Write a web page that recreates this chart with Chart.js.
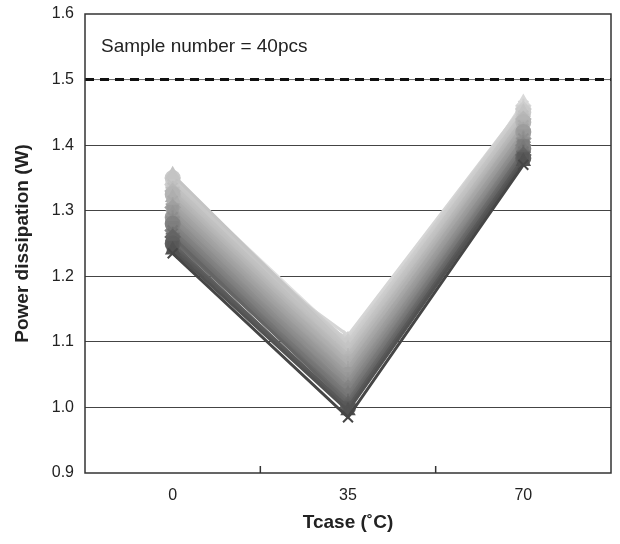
<!DOCTYPE html>
<html>
<head>
<meta charset="utf-8">
<script src="https://cdn.jsdelivr.net/npm/chart.js@4.4.1/dist/chart.umd.min.js"></script>
<style>
  html, body { margin: 0; padding: 0; background: #fff; }
  #wrap { width: 620px; height: 544px; }
</style>
</head>
<body>
<div id="wrap"><canvas id="powerChart" width="620" height="544"></canvas></div>
<script>
// Tcase categories (°C)
var tcase = ['0', '35', '70'];

// power dissipation of each sample, ordered dark -> light shade
var pAt0 = [1.235, 1.24, 1.245, 1.25, 1.26, 1.255, 1.265, 1.27, 1.26, 1.275,
            1.28, 1.27, 1.285, 1.29, 1.28, 1.295, 1.30, 1.29, 1.305, 1.31,
            1.30, 1.315, 1.32, 1.31, 1.325, 1.33, 1.32, 1.335, 1.34, 1.355,
            1.345, 1.35, 1.34, 1.33, 1.255, 1.305, 1.345, 1.32, 1.34, 1.35];
var pAt35 = [0.985, 0.995, 1.0, 1.0, 1.005, 1.01, 1.01, 1.015, 1.02, 1.02,
             1.025, 1.03, 1.03, 1.035, 1.04, 1.04, 1.045, 1.05, 1.05, 1.055,
             1.06, 1.06, 1.065, 1.07, 1.07, 1.075, 1.08, 1.08, 1.085, 1.09,
             1.09, 1.095, 1.10, 1.10, 1.105, 1.11, 1.06, 1.07, 1.09, 1.10];
var pAt70 = [1.37, 1.375, 1.38, 1.38, 1.385, 1.39, 1.385, 1.39, 1.395, 1.40,
             1.395, 1.40, 1.405, 1.41, 1.40, 1.41, 1.415, 1.42, 1.41, 1.42,
             1.425, 1.43, 1.42, 1.43, 1.435, 1.44, 1.43, 1.44, 1.445, 1.45,
             1.44, 1.45, 1.455, 1.46, 1.45, 1.46, 1.465, 1.44, 1.455, 1.46];

var yTicks = [0.9, 1.0, 1.1, 1.2, 1.3, 1.4, 1.5, 1.6];
var limitLine = 1.5;
var noteText = 'Sample number = 40pcs';

var markerStyles = ['crossRot', 'triangle', 'rect', 'circle', 'rectRot', 'cross', 'star'];
var fontFam = '"Liberation Sans", Arial, sans-serif';

function shade(i, n) {
    var t = Math.pow(i / (n - 1), 0.7);
    var v = Math.round(70 + (225 - 70) * t);
    return 'rgb(' + v + ',' + v + ',' + v + ')';
}

var datasets = [];
for (var i = 0; i < pAt0.length; i++) {
    var c = shade(i, pAt0.length);
    datasets.push({
        label: 'sample ' + (i + 1),
        data: [pAt0[i], pAt35[i], pAt70[i]],
        borderColor: c,
        backgroundColor: c,
        borderWidth: 3,
        pointStyle: markerStyles[i % markerStyles.length],
        pointRadius: 7,
        pointBorderWidth: 2,
        pointBorderColor: c,
        pointBackgroundColor: c,
        tension: 0
    });
}

// frame, limit line, inner x tick marks and note
var decorPlugin = {
    id: 'decor',
    beforeDatasetsDraw: function(chart) {
        var ctx = chart.ctx;
        var a = chart.chartArea;
        var y = chart.scales.y;
        var x = chart.scales.x;
        ctx.save();
        var py = y.getPixelForValue(limitLine);
        ctx.strokeStyle = '#666';
        ctx.lineWidth = 1;
        ctx.beginPath();
        ctx.moveTo(a.left, py);
        ctx.lineTo(a.right, py);
        ctx.stroke();
        ctx.strokeStyle = '#111';
        ctx.lineWidth = 3;
        ctx.setLineDash([9, 6]);
        ctx.beginPath();
        ctx.moveTo(a.left, py);
        ctx.lineTo(a.right, py);
        ctx.stroke();
        ctx.setLineDash([]);

        ctx.strokeStyle = '#333';
        ctx.lineWidth = 1.5;
        for (var k = 0; k < tcase.length - 1; k++) {
            var tx = (x.getPixelForValue(k) + x.getPixelForValue(k + 1)) / 2;
            ctx.beginPath();
            ctx.moveTo(tx, a.bottom);
            ctx.lineTo(tx, a.bottom - 7);
            ctx.stroke();
        }

        ctx.fillStyle = '#222';
        ctx.font = '19px ' + fontFam;
        ctx.textBaseline = 'middle';
        ctx.fillText(noteText, a.left + 16, 47);
        ctx.restore();
    },
    afterDatasetsDraw: function(chart) {
        var ctx = chart.ctx;
        var a = chart.chartArea;
        ctx.save();
        ctx.strokeStyle = '#333';
        ctx.lineWidth = 1.5;
        ctx.strokeRect(a.left, a.top, a.right - a.left, a.bottom - a.top);
        ctx.restore();
    }
};

var ctx = document.getElementById('powerChart').getContext('2d');
new Chart(ctx, {
    type: 'line',
    data: { labels: tcase, datasets: datasets },
    plugins: [decorPlugin],
    options: {
        responsive: false,
        animation: false,
        layout: { padding: { top: 0, right: 9, left: 0, bottom: 0 } },
        plugins: {
            legend: { display: false },
            tooltip: { enabled: false }
        },
        scales: {
            x: {
                offset: true,
                grid: { display: false },
                border: { display: false },
                ticks: {
                    color: '#222',
                    padding: 5,
                    font: { family: fontFam, size: 16 }
                },
                title: {
                    display: true,
                    text: 'Tcase (˚C)',
                    color: '#222',
                    padding: { top: 0, bottom: 10 },
                    font: { family: fontFam, size: 19, weight: 'bold' }
                },
                afterFit: function(s) { s.height = 71; }
            },
            y: {
                min: 0.9,
                max: 1.6,
                afterBuildTicks: function(s) {
                    s.ticks = yTicks.map(function(v) { return { value: v }; });
                },
                grid: {
                    drawTicks: false,
                    lineWidth: 1,
                    color: function(c) {
                        var v = c.tick ? Math.round(c.tick.value * 10) / 10 : 0;
                        return (v === 1.5 || v === 0.9 || v === 1.6) ? 'rgba(0,0,0,0)' : '#444';
                    }
                },
                border: { display: false },
                ticks: {
                    color: '#222',
                    padding: 11,
                    font: { family: fontFam, size: 16 },
                    callback: function(v) { return Number(v).toFixed(1); }
                },
                title: {
                    display: true,
                    text: 'Power dissipation (W)',
                    color: '#222',
                    padding: { top: 11, bottom: 0 },
                    font: { family: fontFam, size: 19, weight: 'bold' }
                },
                afterFit: function(s) {
                    s.width = 85;
                    s.paddingTop = 14;
                    s.paddingBottom = 0;
                }
            }
        }
    }
});
</script>
</body>
</html>
